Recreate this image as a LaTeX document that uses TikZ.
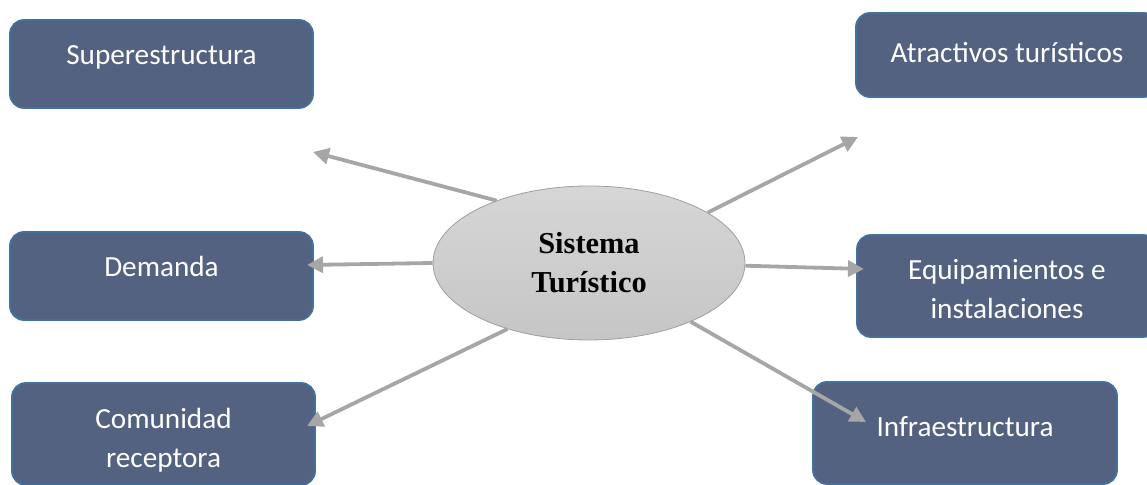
\documentclass[tikz,border=0pt]{standalone}
\usepackage{fontspec}
\setmainfont{Carlito}
\newfontfamily\serifbold{Liberation Serif}
\usetikzlibrary{arrows.meta,shapes.geometric}
\definecolor{boxfill}{RGB}{83,98,128}
\definecolor{boxline}{RGB}{65,113,156}
\definecolor{arrowgray}{RGB}{166,166,166}
\tikzset{
  partbox/.style={rectangle,rounded corners=7pt,fill=boxfill,draw=boxline,line width=0.9pt,
    text=white,font=\fontsize{14.6}{19.5}\selectfont,inner sep=0pt,outer sep=0pt},
  twoline/.style={align=center},
  flow/.style={draw=arrowgray,line width=1.9pt,-{Triangle[length=8pt,width=8pt]}},
}
\begin{document}
\begin{tikzpicture}[x=0.5pt,y=-0.5pt]
\clip (0,0) rectangle (1147,485);

% boxes round the centre
\node[partbox,minimum width=151.5pt,minimum height=44pt,text height=10pt,text depth=9pt] (sup) at (161.5,64) {Superestructura};
\node[partbox,minimum width=151pt,minimum height=42pt,text height=10pt,text depth=2pt] (atr) at (1007,55) {Atractivos turísticos};
\node[partbox,minimum width=151.5pt,minimum height=44pt,text height=10pt,text depth=9pt] (dem) at (161.5,276) {Demanda};
\node[partbox,twoline,minimum width=150pt,minimum height=51pt,text height=36pt,text depth=3pt] (equ) at (1007,286) {Equipamientos e\\instalaciones};
\node[partbox,twoline,minimum width=151.5pt,minimum height=51pt,text height=37pt,text depth=3pt] (com) at (163.5,434) {Comunidad\\receptora};
\node[partbox,minimum width=152pt,minimum height=51pt,text height=10pt,text depth=6pt] (inf) at (965,433) {Infraestructura};

% centre
\node[ellipse,minimum width=156pt,minimum height=77pt,inner sep=0pt,draw=gray!75,thin,
  top color=gray!32,bottom color=gray!45,align=center,
  font=\serifbold\bfseries\fontsize{15.2}{19.5}\selectfont] (sis) at (589,263) {Sistema\\Turístico};

% arrow tips
\coordinate (tipsup) at (313,152);
\coordinate (tipatr) at (858,137);
\coordinate (tipdem) at (307,265);
\coordinate (tipequ) at (864,269);
\coordinate (tipcom) at (307,426);
\coordinate (tipinf) at (866,422);

\draw[flow] (sis.146) -- (tipsup);
\draw[flow] (sis.23) -- (tipatr);
\draw[flow] (sis.180) -- (tipdem);
\draw[flow] (sis.-1) -- (tipequ);
\draw[flow] (sis.219) -- (tipcom);
\draw[flow] (sis.330) -- (tipinf);
\end{tikzpicture}
\end{document}
